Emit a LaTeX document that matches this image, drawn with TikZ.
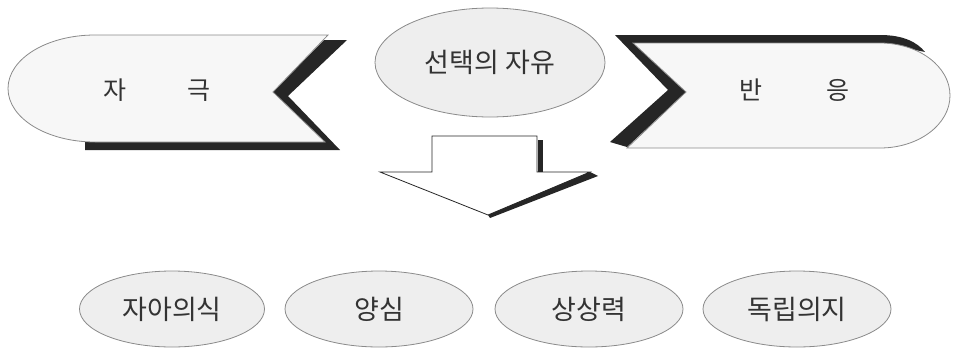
\documentclass[tikz,border=0pt]{standalone}
\usepackage{fontspec}
\newfontfamily\kr{Noto Sans CJK KR}
\usetikzlibrary{shapes.geometric}
\definecolor{txt}{HTML}{333333}
\definecolor{band}{HTML}{262626}
\definecolor{edge}{HTML}{8A8A8A}
\definecolor{ovalfill}{HTML}{EEEEEE}
\definecolor{boxfill}{HTML}{F7F7F7}
\begin{document}
\begin{tikzpicture}[x=1pt,y=-1pt,
  shapebox/.style={fill=boxfill, draw=edge, line width=0.8pt},
  bandfill/.style={fill=band},
  oval/.style={ellipse, fill=ovalfill, draw=edge, line width=0.8pt, inner sep=0pt},
  toptext/.style={text=txt, font=\kr\fontsize{25}{30}\selectfont, inner sep=0pt},
  bottext/.style={text=txt, font=\kr\fontsize{27}{32}\selectfont},
  arrowline/.style={fill=white, draw=black!85, line width=0.8pt, line join=miter}]
\useasboundingbox (0,0) rectangle (957,351);
% left shape (stimulus)
\fill[bandfill] (324,40) -- (347,40) -- (288,96) -- (340,150) -- (85,150) -- (85,142) -- (325,142) -- (273,92) -- cycle;
\draw[shapebox] (95,35) -- (328,35) -- (273,92) -- (325,142) -- (95,142)
  .. controls (47,142) and (8,118.3) .. (8,88.5)
  .. controls (8,58.7) and (47,35) .. (95,35) -- cycle;
\node[toptext] (stim) at (157,90) {자\hspace{61pt}극};
% right shape (response)
\fill[bandfill] (615,35) -- (880,35) .. controls (903,35) and (917,42) .. (925,52) -- (880,43) -- (633,43) -- (686,92) -- (627,147) -- (610,142) -- (668,90) -- cycle;
\draw[shapebox] (633,43) -- (880,43)
  .. controls (918.7,43) and (950,66.5) .. (950,95.5)
  .. controls (950,124.5) and (918.7,148) .. (880,148)
  -- (627,148) -- (686,92) -- cycle;
\node[toptext] (resp) at (794,90) {반\hspace{64pt}응};
% centre oval
\node[oval, minimum width=230pt, minimum height=109pt, text=txt, font=\kr\fontsize{27}{32}\selectfont] (choice) at (490,62.5) {선택의 자유};
% down arrow
\draw[arrowline] (432,172) -- (432,136) -- (537,136) -- (537,172) -- (590,172) -- (488,215) -- (380,172) -- cycle;
\fill[bandfill] (537.5,140) rectangle (543,172);
\fill[bandfill] (590,172) -- (598,176) -- (490,218) -- (488,215) -- cycle;
% bottom ovals
\node[oval, minimum width=185pt, minimum height=76pt, bottext] (self) at (172,309) {\raisebox{-6pt}{자아의식}};
\node[oval, minimum width=188pt, minimum height=76pt, bottext] (consc) at (379,309) {\raisebox{-6pt}{양심}};
\node[oval, minimum width=188pt, minimum height=76pt, bottext] (imag) at (589,309) {\raisebox{-6pt}{상상력}};
\node[oval, minimum width=188pt, minimum height=76pt, bottext] (indep) at (797,309) {\raisebox{-6pt}{독립의지}};
\end{tikzpicture}
\end{document}
